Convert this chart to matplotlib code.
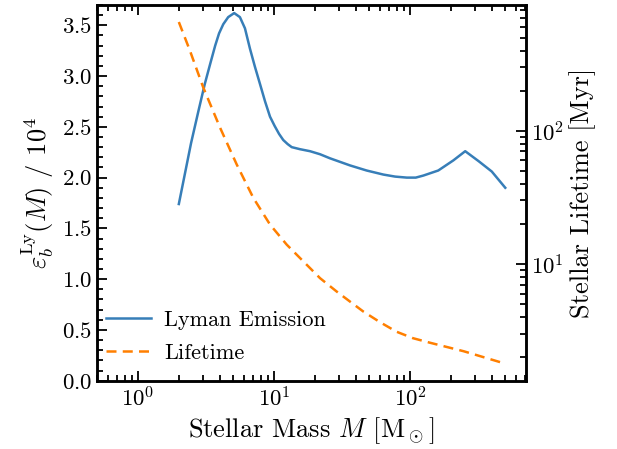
import matplotlib
matplotlib.use('Agg')
import matplotlib.pyplot as plt
from matplotlib.ticker import MultipleLocator

plt.rcParams['font.family'] = 'serif'
plt.rcParams['font.serif'] = ['cmr10']
plt.rcParams['mathtext.fontset'] = 'cm'
plt.rcParams['axes.formatter.use_mathtext'] = True
plt.rcParams['axes.unicode_minus'] = False

# Lyman-band emission per unit mass (in units of 1e4) vs stellar mass
mass_ly = [2.0, 2.46, 2.78, 3.1, 3.4, 3.7, 3.95, 4.24, 4.61, 5.1, 5.62, 6.12,
           6.66, 7.25, 7.9, 8.6, 9.35, 10.1, 10.9, 11.7, 12.6, 13.5, 15.5,
           18.4, 21.8, 25.8, 36.2, 47.9, 63.6, 77.6, 94.6, 110, 125, 161, 208,
           254, 320, 398, 500]
emission = [1.74, 2.34, 2.65, 2.92, 3.12, 3.30, 3.42, 3.51, 3.58, 3.62, 3.58,
            3.47, 3.27, 3.09, 2.92, 2.75, 2.60, 2.51, 2.43, 2.37, 2.33, 2.30,
            2.28, 2.26, 2.23, 2.19, 2.12, 2.07, 2.03, 2.01, 2.00, 2.00, 2.02,
            2.07, 2.17, 2.26, 2.16, 2.06, 1.90]

# main-sequence lifetime in Myr
mass_lt = [2.0, 2.41, 3.02, 4.01, 5.32, 7.05, 9.35, 12.4, 16.4, 21.8, 28.9,
           36.2, 45.4, 60.0, 79.4, 105, 140, 247, 500]
lifetime = [655, 401, 212, 106, 56.0, 31.4, 19.8, 14.0, 10.5, 7.84, 6.22,
            5.23, 4.40, 3.67, 3.11, 2.78, 2.57, 2.22, 1.79]

BLUE = '#377eb8'
ORANGE = '#ff7f00'

fig = plt.figure(figsize=(6.17, 4.49), dpi=100)
ax = fig.add_axes([0.157, 0.152, 0.6955, 0.837])
ax2 = ax.twinx()

l1, = ax.plot(mass_ly, emission, color=BLUE, lw=1.8, label='Lyman Emission')
l2, = ax2.plot(mass_lt, lifetime, color=ORANGE, lw=1.8, ls=(0, (4, 2.5)),
               label='Lifetime')

ax.set_xscale('log')
ax.set_xlim(0.5, 710)
ax.set_ylim(0, 3.70)
ax.yaxis.set_minor_locator(MultipleLocator(0.1))
ax2.set_yscale('log')

for a in (ax, ax2):
    for s in a.spines.values():
        s.set_linewidth(1.8)
ax.tick_params(which='both', direction='in', top=True, right=False,
               labelsize=16.5, width=1.3)
ax.tick_params(which='major', length=7)
ax.tick_params(which='minor', length=4)
ax2.tick_params(which='both', direction='in', labelsize=16.5, width=1.3)
ax2.tick_params(which='major', length=7)
ax2.tick_params(which='minor', length=4)

ax.set_xlabel(r'Stellar Mass $M$ [M$_\odot$]', fontsize=19)
ax.set_ylabel(r'$\varepsilon_b^{\rm Ly}(M)$ / $10^4$', fontsize=19)
ax2.set_ylabel('Stellar Lifetime [Myr]', fontsize=19)

ax.legend(handles=[l1, l2], loc='lower left', bbox_to_anchor=(-0.019, 0.0),
          frameon=False, fontsize=16, handlelength=2.0, handletextpad=0.6,
          labelspacing=0.6, borderaxespad=0.4)

fig.savefig('out.png', dpi=100)
